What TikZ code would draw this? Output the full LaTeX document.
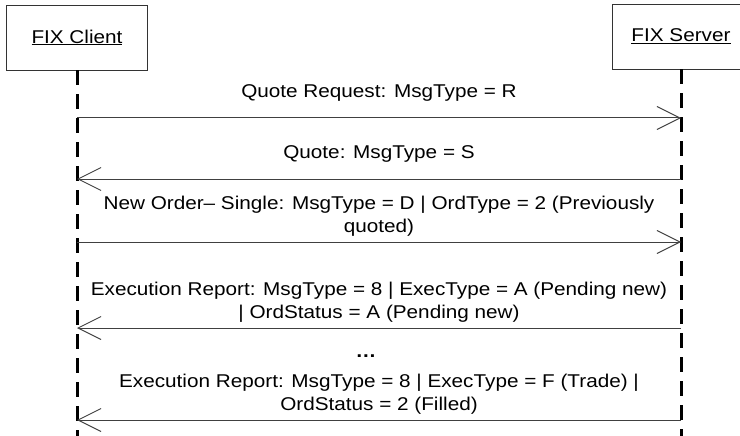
\documentclass[tikz,border=0pt]{standalone}
\usepackage{fontspec}
\setmainfont{Liberation Sans}[FakeStretch=1.12]
\usetikzlibrary{arrows.meta}

\begin{document}
\begin{tikzpicture}[x=1pt, y=-1pt,
        font=\fontsize{18.5}{23}\selectfont,
        actor/.style={draw=black!80, line width=0.8pt, minimum height=65pt, inner sep=0pt},
        life/.style={line width=3pt, dash pattern=on 15pt off 9pt},
        msg/.style={draw=black!75, line width=1pt, -{Straight Barb[length=23pt, width=23pt, line width=1pt]}},
        lbl/.style={anchor=south, inner sep=0pt, align=center}]
    \useasboundingbox (0,0) rectangle (740,436);
    \node[actor, minimum width=141pt] (client) at (77,37.5) {\underline{FIX Client}};
    \node[actor, minimum width=138pt] (server) at (681,36.5) {\underline{FIX Server}};
    \coordinate (cend) at (77,440);
    \coordinate (send) at (681,440);
    \draw[life] (client.south) -- (cend);
    \draw[life] (server.south) -- (send);
    \foreach \n/\y in {1/118, 2/179, 3/242, 4/328, 5/420}{
        \coordinate (c\n) at (77,\y);
        \coordinate (s\n) at (681,\y);
    }
    \draw[msg] (c1) -- node[lbl, yshift=16pt] {Quote Request: MsgType = R} (s1);
    \draw[msg] (s2) -- node[lbl, yshift=16pt] {Quote: MsgType = S} (c2);
    \draw[msg] (c3) -- node[lbl, yshift=5pt] {New Order-- Single: MsgType = D | OrdType = 2 (Previously\\quoted)} (s3);
    \draw[msg] (s4) -- node[lbl, yshift=5pt] {Execution Report: MsgType = 8 | ExecType = A (Pending new)\\| OrdStatus = A (Pending new)} (c4);
    \node[anchor=base, inner sep=0pt] (dots) at (366,357) {\textbf{\dots}};
    \draw[msg] (s5) -- node[lbl, yshift=5pt] {Execution Report: MsgType = 8 | ExecType = F (Trade) |\\OrdStatus = 2 (Filled)} (c5);
\end{tikzpicture}
\end{document}
